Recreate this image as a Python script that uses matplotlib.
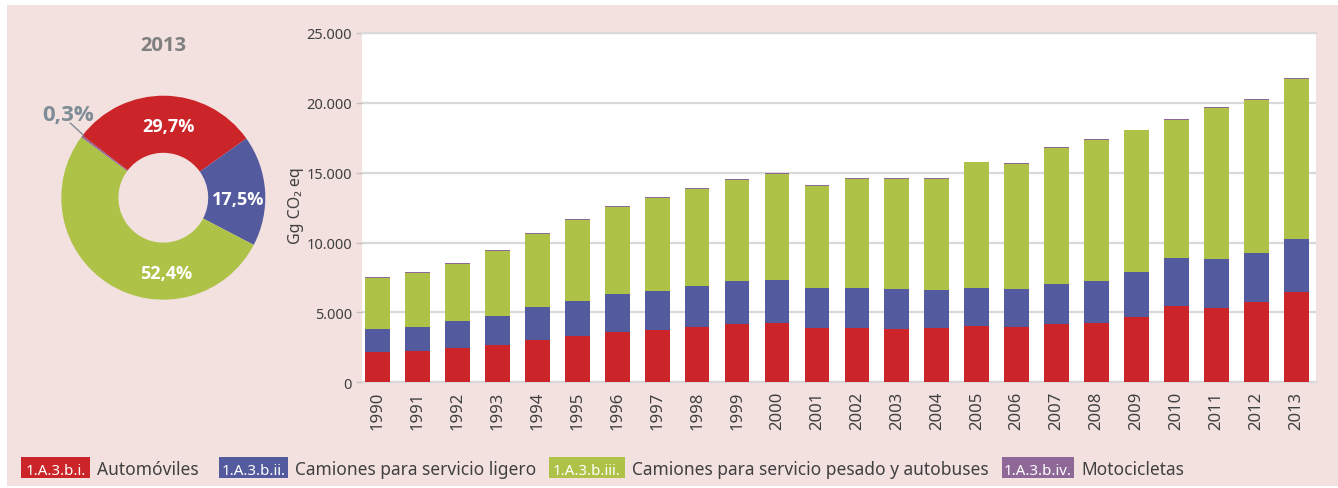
import matplotlib
matplotlib.use("Agg")
import matplotlib.pyplot as plt
from matplotlib.patches import Rectangle
import numpy as np

plt.rcParams['font.family'] = ['Noto Sans', 'DejaVu Sans']
BOLD_FAMILY = ['Open Sans', 'Lato', 'DejaVu Sans']

# ---------------- data ----------------
years = ['1990', '1991', '1992', '1993', '1994', '1995', '1996', '1997', '1998', '1999',
         '2000', '2001', '2002', '2003', '2004', '2005', '2006', '2007', '2008', '2009',
         '2010', '2011', '2012', '2013']
automoviles = [2170, 2270, 2460, 2700, 3030, 3320, 3600, 3750, 3980, 4170,
               4270, 3890, 3890, 3840, 3890, 4030, 3980, 4170, 4270, 4700,
               5460, 5320, 5750, 6460]
camiones_ligero = [1650, 1690, 1930, 2050, 2360, 2500, 2720, 2790, 2910, 3080,
                   3050, 2860, 2860, 2840, 2720, 2720, 2700, 2870, 2980, 3200,
                   3440, 3510, 3510, 3820]
camiones_pesado = [3670, 3890, 4080, 4670, 5230, 5800, 6230, 6650, 6970, 7250,
                   7610, 7280, 7830, 7900, 7970, 8990, 8970, 9710, 10120, 10130,
                   9850, 10830, 10920, 11430]
motocicletas = [60, 60, 60, 60, 60, 60, 60, 60, 60, 60,
                60, 60, 60, 60, 60, 60, 60, 60, 60, 60,
                65, 65, 65, 65]

y_ticks = [0, 5000, 10000, 15000, 20000, 25000]
y_tick_labels = ['0', '5.000', '10.000', '15.000', '20.000', '25.000']
y_label = 'Gg CO\u2082 eq'

pie_year = '2013'
pie_shares = [29.7, 17.5, 52.4, 0.3]
pie_labels = ['29,7%', '17,5%', '52,4%', '0,3%']

legend_codes = ['1.A.3.b.i.', '1.A.3.b.ii.', '1.A.3.b.iii.', '1.A.3.b.iv.']
legend_names = ['Automóviles', 'Camiones para servicio ligero',
                'Camiones para servicio pesado y autobuses', 'Motocicletas']

# ---------------- style ----------------
colors = ['#CC2529', '#535B9E', '#AEC247', '#8E6896']
bg = '#F3E1E0'
grid_c = '#D9D9D9'
txt_c = '#404040'

W, H = 1338, 489
fig = plt.figure(figsize=(W / 100, H / 100), dpi=100)
fig.patch.set_facecolor('white')
fig.add_artist(Rectangle((7 / W, 2 / H), (W - 7) / W, (483 - 2) / H,
                         transform=fig.transFigure, facecolor=bg, edgecolor='none', zorder=0))

# ---------------- bar chart ----------------
L, R, T, B = 361.7, 1315.8, 34.0, 383.3
ax = fig.add_axes([L / W, (H - B) / H, (R - L) / W, (B - T) / H])
ax.set_facecolor('white')
x = np.arange(len(years))
bw = 0.62
series = [automoviles, camiones_ligero, camiones_pesado, motocicletas]
bottom = np.zeros(len(years))
for vals, c in zip(series, colors):
    ax.bar(x, vals, bw, bottom=bottom, color=c, edgecolor='none', zorder=3)
    bottom += np.array(vals)

ax.set_ylim(0, 25000)
ax.set_xlim(-0.395, 23.486)
ax.set_yticks(y_ticks)
ax.set_yticklabels(y_tick_labels, fontsize=10.5, color=txt_c)
ax.set_xticks(x)
ax.set_xticklabels(years, rotation=90, fontsize=12, color=txt_c)
ax.tick_params(axis='x', length=0, pad=6)
ax.tick_params(axis='y', length=4, width=1, color='#BFBFBF', pad=3)
ax.yaxis.grid(True, color=grid_c, linewidth=1.6, zorder=0)
ax.set_axisbelow(True)
for s in ['left', 'right']:
    ax.spines[s].set_visible(False)
for s in ['top', 'bottom']:
    ax.spines[s].set_color(grid_c)
    ax.spines[s].set_linewidth(1.6)
ax.set_ylabel(y_label, fontsize=11.5, color=txt_c)
ax.yaxis.set_label_coords(-0.060, 0.51)

# ---------------- doughnut ----------------
cx, cy, rad = 163.3, 198.7, 102.0
ax2 = fig.add_axes([(cx - rad) / W, (H - cy - rad) / H, 2 * rad / W, 2 * rad / H])
ax2.pie(pie_shares, colors=colors, startangle=142.5, counterclock=False, radius=1.0,
        wedgeprops=dict(width=0.56, edgecolor='none'))
ax2.set_xlim(-1, 1)
ax2.set_ylim(-1, 1)
ax2.axis('off')
label_pos = [(0.05, 0.70), (0.73, -0.01), (0.03, -0.74)]
for (px, py), lab in zip(label_pos, pie_labels[:3]):
    ax2.text(px, py, lab, color='white', fontsize=13, fontweight='bold',
             family=BOLD_FAMILY, ha='center', va='center')
ax2.plot([-0.91, -0.785], [0.73, 0.615], color='#7D8C96', lw=1, clip_on=False)
ax2.text(-0.93, 0.82, pie_labels[3], color='#7D8C96', fontsize=16, fontweight='bold',
         family=BOLD_FAMILY, ha='center', va='center', clip_on=False)
fig.text(163 / W, 1 - 46 / H, pie_year, color='#7F7F7F', fontsize=14.5,
         fontweight='bold', family=BOLD_FAMILY, ha='center', va='center')

# ---------------- legend ----------------
box_x = [20.7, 219.0, 549.0, 1002.0]
box_w = [69.3, 68.7, 76.0, 72.0]
box_y0, box_y1 = 10.3, 31.0
for bx, bwid, code, name, c in zip(box_x, box_w, legend_codes, legend_names, colors):
    fig.add_artist(Rectangle((bx / W, box_y0 / H), bwid / W, (box_y1 - box_y0) / H,
                             transform=fig.transFigure, facecolor=c, edgecolor='none', zorder=2))
    fig.text((bx + bwid / 2) / W, 14 / H, code, color='white', fontsize=10.8,
             ha='center', va='baseline', zorder=3)
    fig.text((bx + bwid + 7) / W, 14 / H, name, color=txt_c, fontsize=12.5,
             ha='left', va='baseline', zorder=3)

fig.savefig('out.png', dpi=100, facecolor=fig.get_facecolor())
